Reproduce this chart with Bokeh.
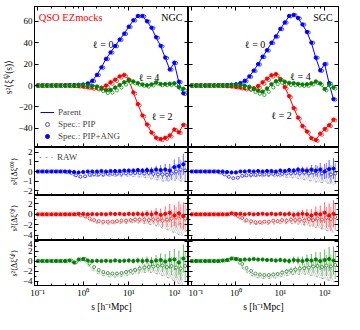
import numpy as np
from bokeh.plotting import figure
from bokeh.models import (LinearAxis, LogAxis, LogTicker, SingleIntervalTicker,
                          CustomJSTickFormatter, Range1d, Legend, LegendItem, Label)
from bokeh.layouts import gridplot
from bokeh.embed import file_html
from bokeh.resources import INLINE

# ---------------- data ----------------
s = [0.1, 0.126, 0.158, 0.2, 0.251, 0.316, 0.398, 0.501, 0.631, 0.794,
     1.0, 1.26, 1.58, 2.0, 2.51, 3.16, 3.98, 5.01, 6.31, 7.94,
     10.0, 12.6, 15.8, 20.0, 25.1, 31.6, 39.8, 50.1, 63.1, 79.4,
     100.0, 126.0, 158.0]

# parent multipoles s^2 xi_l
xi0_ngc = [0.0, 0.0, 0.0, 0.0, 0.1, 0.1, 0.2, 0.3, 0.5, 0.7, 1.0, 2.0, 4.5, 10.0, 17.0, 25.0, 31.0,
           37.0, 43.0, 48.5, 55.0, 61.0, 65.0, 65.0, 60.0, 54.0, 45.0, 37.0, 26.0, 15.0, 21.0, 3.0, -8.0]
xi2_ngc = [0, 0, 0, 0, 0, 0, 0, -0.2, -0.4, -0.7, -1.0, -1.5, -2.0, -2.3, -2.0, 0.0, 3.0, 5.5, 8.5,
           10.0, 5.5, -6.5, -17.5, -28.0, -36.5, -44.0, -49.0, -50.0, -49.0, -47.0, -41.0, -44.0, -36.5]
xi4_ngc = [0, 0, 0, 0, 0, 0, 0, 0, 0, 0, 0, 0, -0.3, -1.0, -3.0, -4.5, -4.2, -2.0, 0.5, 3.0, 4.5,
           3.8, 2.2, 1.0, 0.2, 1.2, 2.8, 1.2, 1.5, 1.5, 1.8, -1.3, -3.5]
xi0_sgc = [0.0, 0.0, 0.0, 0.0, 0.1, 0.1, 0.2, 0.3, 0.5, 0.8, 1.3, 2.3, 4.5, 8.5, 14.0, 20.0, 27.0,
           33.0, 40.0, 46.0, 53.0, 59.0, 65.0, 66.0, 63.0, 57.0, 50.0, 40.0, 26.0, 14.0, 20.0, 2.0, -13.0]
xi2_sgc = [0, 0, 0, 0, 0, 0, 0, -0.3, -0.6, -1.0, -1.5, -2.0, -2.5, -2.8, -2.5, -0.5, 3.0, 6.5, 9.5,
           10.7, 6.0, -1.5, -10.0, -21.0, -30.0, -38.0, -43.0, -49.0, -51.0, -45.0, -41.0, -37.0, -32.0]
xi4_sgc = [0, 0, 0, 0, 0, 0, 0, 0, 0, 0, 0, 0, -0.5, -1.5, -3.5, -5.0, -6.0, -3.0, 1.0, 4.0, 5.0,
           3.5, 2.5, 2.0, 1.5, 1.0, 1.0, 2.0, 3.5, 2.0, -3.5, 0.5, -2.0]

# residuals s^2 <Delta xi_l>, NGC
d0_pip_ngc = [0, 0, 0, 0, 0, 0, -0.05, -0.15, -0.4, -0.55, -0.5, -0.35, -0.3, -0.3, -0.3, -0.25, -0.25,
              -0.25, -0.25, -0.2, -0.2, -0.15, -0.15, -0.2, -0.15, -0.25, -0.3, -0.3, -0.35, -0.2, 0.0, 0.2, 0.1]
d0_ang_ngc = [0, 0, 0, 0, 0, 0, 0, 0, -0.05, -0.1, -0.05, 0.0, 0.0, 0.0, 0.05, 0.0, 0.05, 0.05, 0.05,
              0.1, 0.1, 0.1, 0.15, 0.1, 0.15, 0.1, 0.2, 0.15, 0.2, 0.1, 0.45, 0.55, 0.75]
raw0_ngc = [0, 0, 0, 0, 0, 0, 0, -0.2, -0.45, -0.6, -0.6, -0.5, -0.45, -0.45, -0.45, -0.4, -0.4, -0.4,
            -0.4, -0.35, -0.35, -0.35, -0.35, -0.4, -0.4, -0.5, -0.55, -0.6, -0.65, -0.55, -0.45, -0.45, -0.5]
d2_pip_ngc = [0, 0, 0, 0, 0, 0, 0, 0, 0, -0.2, -0.4, -0.8, -1.1, -1.3, -1.4, -1.4, -1.4, -1.3, -1.2,
              -1.2, -1.1, -1.0, -1.0, -1.0, -1.1, -1.0, -1.0, -1.2, -1.0, -0.8, -0.6, -0.4, -0.8]
d2_ang_ngc = [0, 0, 0, 0, 0, 0, 0, 0, 0, 0.1, 0.1, 0.0, 0.05, 0.0, 0.05, 0.0, 0.1, 0.05, 0.1, 0.0,
              0.1, 0.05, 0.1, 0.0, 0.1, 0.0, 0.2, -0.1, 0.1, 0.3, -0.2, 0.2, -0.3]
raw2_ngc = [0, 0, 0, 0, 0, 0, 0, 0, 0, 0, -0.3, -0.8, -1.3, -1.6, -1.7, -1.7, -1.7, -1.6, -1.5, -1.5,
            -1.4, -1.3, -1.3, -1.3, -1.4, -1.5, -1.6, -1.8, -2.0, -2.2, -2.5, -2.8, -3.0]
d4_pip_ngc = [0, 0, 0, 0, 0, 0, 0, 0.1, -0.3, 0.3, 0.4, -0.5, -1.2, -1.8, -2.2, -2.4, -2.5, -2.5, -2.4,
              -2.2, -2.0, -1.8, -1.5, -1.3, -1.2, -1.1, -1.0, -0.9, -1.2, -1.0, -1.3, -1.5, -1.0]
d4_ang_ngc = [0, 0, 0, 0, 0, 0, 0, 0.1, -0.3, 0.3, 0.4, 0.1, 0.0, 0.05, 0.0, 0.05, 0.0, 0.1, 0.0, 0.05,
              0.1, 0.0, 0.1, 0.0, 0.1, -0.1, 0.1, 0.2, -0.1, 0.2, 0.3, -0.3, 0.5]
raw4_ngc = [0, 0, 0, 0, 0, 0, 0, 0.1, -0.3, 0.3, 0.3, -0.7, -1.6, -2.2, -2.6, -2.8, -2.9, -2.9, -2.8,
            -2.6, -2.4, -2.1, -1.9, -1.7, -1.6, -1.6, -1.7, -1.9, -2.1, -2.4, -2.8, -3.2, -3.5]

# residuals, SGC
d0_pip_sgc = [0, 0, 0, 0, 0, 0, -0.1, -0.3, -0.55, -0.7, -0.65, -0.45, -0.4, -0.35, -0.35, -0.3, -0.3,
              -0.3, -0.25, -0.3, -0.25, -0.2, -0.2, -0.15, -0.2, -0.1, -0.2, -0.1, 0.0, -0.2, 0.1, -0.3, -0.2]
d0_ang_sgc = [0, 0, 0, 0, 0, 0, 0, 0, -0.05, -0.1, -0.1, 0.0, 0.0, 0.05, 0.0, 0.05, 0.0, 0.05, 0.05,
              0.0, 0.1, 0.05, 0.15, 0.1, 0.2, 0.15, 0.1, 0.2, 0.1, 0.2, 0.0, 0.25, 0.3]
raw0_sgc = [0, 0, 0, 0, 0, 0, 0, -0.3, -0.55, -0.75, -0.7, -0.55, -0.5, -0.5, -0.5, -0.45, -0.45, -0.45,
            -0.4, -0.45, -0.4, -0.4, -0.45, -0.45, -0.5, -0.55, -0.6, -0.65, -0.7, -0.75, -0.7, -0.75, -0.8]
d2_pip_sgc = [0, 0, 0, 0, 0, 0, 0, 0, 0, 0.1, -0.3, -0.7, -1.1, -1.3, -1.5, -1.5, -1.4, -1.4, -1.2,
              -1.3, -1.1, -1.2, -1.0, -1.1, -1.0, -1.2, -0.9, -1.1, -0.8, -1.0, -0.6, -0.9, -0.5]
d2_ang_sgc = [0, 0, 0, 0, 0, 0, 0, 0, 0, 0.2, 0.1, 0.1, 0.0, 0.1, 0.0, 0.05, 0.1, 0.0, 0.1, 0.0, 0.1,
              0.0, 0.1, -0.1, 0.0, 0.1, 0.0, -0.2, 0.1, 0.0, 0.3, -0.2, 0.1]
raw2_sgc = [0, 0, 0, 0, 0, 0, 0, 0, 0, 0, -0.4, -0.9, -1.4, -1.7, -1.8, -1.8, -1.7, -1.7, -1.6, -1.6,
            -1.5, -1.5, -1.4, -1.4, -1.4, -1.5, -1.5, -1.6, -1.7, -1.8, -2.0, -2.1, -2.2]
d4_pip_sgc = [0, 0, 0, 0, 0, 0, 0, 0.1, 0.2, 0.5, 0.4, -0.6, -1.4, -2.0, -2.5, -2.7, -2.8, -2.8, -2.7,
              -2.6, -2.3, -2.1, -1.9, -1.7, -1.5, -1.4, -1.3, -1.1, -1.0, -1.2, -0.9, -1.1, -0.8]
d4_ang_sgc = [0, 0, 0, 0, 0, 0, 0, 0.1, 0.2, 0.5, 0.4, 0.2, 0.3, 0.3, 0.4, 0.3, 0.3, 0.2, 0.2, 0.1,
              0.2, 0.1, 0.0, 0.2, 0.1, 0.0, 0.2, 0.1, 0.3, 0.0, 0.2, 0.4, 0.1]
raw4_sgc = [0, 0, 0, 0, 0, 0, 0, 0.1, 0.2, 0.4, 0.2, -0.9, -1.8, -2.4, -2.9, -3.1, -3.2, -3.2, -3.1,
            -3.0, -2.7, -2.5, -2.3, -2.1, -2.0, -1.9, -1.9, -2.0, -2.1, -2.3, -2.4, -2.6, -2.8]

# error bars (mock scatter) and RAW band half-widths
err0 = [0.03] * 10 + [0.05, 0.05, 0.06, 0.07, 0.08, 0.1, 0.1, 0.12, 0.13, 0.15, 0.17, 0.2, 0.22,
                      0.25, 0.3, 0.35, 0.4, 0.5, 0.6, 0.7, 0.8, 0.95, 1.1]
err2 = [0.05] * 10 + [0.1, 0.12, 0.15, 0.18, 0.2, 0.22, 0.25, 0.28, 0.3, 0.35, 0.4, 0.45, 0.5,
                      0.6, 0.7, 0.8, 1.0, 1.2, 1.4, 1.7, 2.0, 2.3, 2.6]
err4 = [0.05] * 10 + [0.12, 0.15, 0.18, 0.2, 0.22, 0.25, 0.28, 0.3, 0.35, 0.4, 0.45, 0.5, 0.6,
                      0.7, 0.8, 0.9, 1.1, 1.3, 1.5, 1.8, 2.1, 2.4, 2.8]
rawerr0 = [0.02] * 10 + [0.05, 0.05, 0.06, 0.07, 0.08, 0.09, 0.1, 0.1, 0.12, 0.13, 0.15, 0.17, 0.2,
                         0.22, 0.25, 0.28, 0.3, 0.35, 0.38, 0.42, 0.45, 0.5, 0.55]
rawerr2 = [0.03] * 10 + [0.08, 0.1, 0.12, 0.13, 0.15, 0.15, 0.18, 0.2, 0.22, 0.25, 0.28, 0.3, 0.35,
                         0.4, 0.45, 0.5, 0.6, 0.7, 0.8, 0.9, 1.0, 1.1, 1.2]
rawerr4 = [0.05] * 10 + [0.1, 0.15, 0.2, 0.22, 0.25, 0.28, 0.3, 0.32, 0.35, 0.4, 0.45, 0.5, 0.55,
                         0.6, 0.65, 0.7, 0.8, 0.9, 1.0, 1.1, 1.2, 1.3, 1.4]

# ---------------- style ----------------
SERIF = "Liberation Serif"
BLUE, RED, GREEN = "#0000ff", "#ff0000", "#008000"
GRAY = "#8c8c8c"
XR = (0.085, 205)
DX = 10 ** 0.04
S = np.array(s)

FMT = """
const e = Math.round(Math.log10(tick));
const m = {"-1": "\u207b\u00b9", "0": "\u2070", "1": "\u00b9", "2": "\u00b2"};
return "10" + (m[String(e)] !== undefined ? m[String(e)] : String(e));
"""


def style(ax, show, label_size="9.5px"):
    ax.major_tick_in = 4
    ax.major_tick_out = 0
    ax.minor_tick_in = 2
    ax.minor_tick_out = 0
    ax.axis_line_color = "black"
    ax.major_tick_line_color = "black"
    ax.minor_tick_line_color = "black"
    ax.major_label_text_font = SERIF
    ax.axis_label_text_font = SERIF
    ax.axis_label_text_font_style = "normal"
    ax.axis_label_text_color = "black"
    ax.major_label_text_color = "black"
    if show:
        ax.major_label_text_font_size = "9px"
        ax.major_label_standoff = 2
        ax.axis_label_standoff = 1
        ax.axis_label_text_font_size = label_size
    else:
        ax.major_label_text_font_size = "1px"
        ax.major_label_text_alpha = 0
        ax.major_label_standoff = 0
        ax.axis_label_standoff = 0


FRAME_H = [141, 48, 45, 48]


def panel(col, row, yr, yticker_fn, ylabel=None):
    w = 188 if col == 0 else 156
    top = 6 if row == 0 else 0
    bottom = 26 if row == 3 else 0
    h = FRAME_H[row] + top + bottom
    p = figure(width=w, height=h, x_axis_type="log", x_range=Range1d(*XR), y_range=Range1d(*yr),
               output_backend="svg", toolbar_location=None,
               min_border_left=34 if col == 0 else 0, min_border_right=0 if col == 0 else 6,
               min_border_top=top, min_border_bottom=bottom)
    p.xgrid.visible = False
    p.ygrid.visible = False
    p.outline_line_color = "black"
    p.outline_line_alpha = 1
    xa = p.xaxis[0]
    ya = p.yaxis[0]
    xa.ticker = LogTicker(desired_num_ticks=4)
    xa.formatter = CustomJSTickFormatter(code=FMT)
    if row == 3:
        xa.axis_label = "s [h\u207b\u00b9Mpc]"
    style(xa, row == 3)
    ya.ticker = yticker_fn()
    if col == 0 and ylabel:
        ya.axis_label = ylabel
    style(ya, col == 0, "9.5px" if row == 0 else "8px")
    ra = LinearAxis(ticker=yticker_fn())
    style(ra, False)
    p.add_layout(ra, "right")
    if row == 0:
        ta = LogAxis(ticker=LogTicker(desired_num_ticks=4))
        style(ta, False)
        p.add_layout(ta, "above")
    return p


def t20():
    return SingleIntervalTicker(interval=20, num_minor_ticks=0)


def t1():
    return SingleIntervalTicker(interval=1, num_minor_ticks=0)


def t2():
    return SingleIntervalTicker(interval=2, num_minor_ticks=2)


def draw_top(p, xis, dps, das):
    rend = {}
    for (xi, dp, da, c) in zip(xis, dps, das, [BLUE, RED, GREEN]):
        xi = np.array(xi, dtype=float)
        ln = p.line(S, xi, color=c, line_width=1)
        op = p.scatter(S * DX, xi + np.array(dp), marker="circle", size=3.2, fill_color="white",
                       line_color=c, line_width=0.7)
        fl = p.scatter(S, xi + np.array(da), marker="circle", size=3.4, fill_color=c, line_color=c)
        rend.setdefault(c, (ln, op, fl))
    return rend


def draw_res(p, dp, da, raw, rawerr, err, c):
    dp = np.array(dp, dtype=float)
    da = np.array(da, dtype=float)
    raw = np.array(raw, dtype=float)
    rawerr = np.array(rawerr, dtype=float)
    err = np.array(err, dtype=float)
    p.varea(x=S, y1=raw - rawerr, y2=raw + rawerr, fill_color=GRAY, fill_alpha=0.06,
            hatch_pattern="/", hatch_color=GRAY, hatch_alpha=0.7, hatch_scale=4, hatch_weight=0.5)
    lo = p.line(S, raw - rawerr, color=GRAY, line_dash="dotted", line_width=0.8)
    p.line(S, raw + rawerr, color=GRAY, line_dash="dotted", line_width=0.8)
    p.segment(x0=S * DX, y0=dp - err, x1=S * DX, y1=dp + err, color=c, alpha=0.45, line_width=1)
    p.segment(x0=S, y0=da - err, x1=S, y1=da + err, color=c, alpha=0.6, line_width=1)
    p.scatter(S * DX, dp, marker="circle", size=3.0, fill_color="white", line_color=c, line_width=0.7)
    p.scatter(S, da, marker="circle", size=3.2, fill_color=c, line_color=c)
    return lo


def add_text(p, x, y, text, align="left", color="black", size="10px"):
    p.add_layout(Label(x=x, y=y, text=text, text_align=align, text_baseline="middle",
                       text_font=SERIF, text_font_size=size, text_color=color))


YTOP = (-58, 74)
Y0 = (-2.5, 2.5)
Y2 = (-5.0, 3.6)
Y4 = (-4.9, 4.1)

caps = [
    ("NGC", xi0_ngc, xi2_ngc, xi4_ngc, d0_pip_ngc, d0_ang_ngc, raw0_ngc, d2_pip_ngc, d2_ang_ngc, raw2_ngc,
     d4_pip_ngc, d4_ang_ngc, raw4_ngc),
    ("SGC", xi0_sgc, xi2_sgc, xi4_sgc, d0_pip_sgc, d0_ang_sgc, raw0_sgc, d2_pip_sgc, d2_ang_sgc, raw2_sgc,
     d4_pip_sgc, d4_ang_sgc, raw4_sgc),
]
cols = []
for col, (name, x0, x2, x4, p0, a0, r0, p2, a2, r2, p4, a4, r4) in enumerate(caps):
    pt = panel(col, 0, YTOP, t20, "s\u00b2\u27e8\u03be\u207d\u02e1\u207e(s)\u27e9")
    rend = draw_top(pt, [x0, x2, x4], [p0, p2, p4], [a0, a2, a4])
    add_text(pt, 151, 64, name, align="right")
    if col == 0:
        add_text(pt, 0.105, 64, "QSO EZmocks", color=RED, size="10.5px")
        add_text(pt, 4.6, 38, "\u2113 = 0", align="right")
        add_text(pt, 16.7, 8, "\u2113 = 4")
        add_text(pt, 32.5, -29, "\u2113 = 2")
        ln, op, fl = rend[BLUE]
        leg = Legend(items=[LegendItem(label="Parent", renderers=[ln]),
                            LegendItem(label="Spec.: PIP", renderers=[op]),
                            LegendItem(label="Spec.: PIP+ANG", renderers=[fl])],
                     location="bottom_left", label_text_font=SERIF, label_text_font_size="9px",
                     glyph_height=10, glyph_width=14, label_height=10, spacing=2, padding=2,
                     margin=4, background_fill_alpha=0, border_line_alpha=0, label_standoff=4)
        pt.add_layout(leg)
    else:
        add_text(pt, 4.6, 38, "\u2113 = 0", align="right")
        add_text(pt, 16.7, 8.5, "\u2113 = 4")
        add_text(pt, 6.3, -28, "\u2113 = 2")

    q0 = panel(col, 1, Y0, t1, "s\u00b2\u27e8\u0394\u03be\u207d\u2070\u207e\u27e9")
    lo = draw_res(q0, p0, a0, r0, rawerr0, err0, BLUE)
    if col == 0:
        leg2 = Legend(items=[LegendItem(label="RAW", renderers=[lo])], location="top_left",
                      label_text_font=SERIF, label_text_font_size="9px", glyph_height=10,
                      glyph_width=14, label_height=10, padding=2, margin=3,
                      background_fill_alpha=0, border_line_alpha=0, label_standoff=4)
        q0.add_layout(leg2)
    q2 = panel(col, 2, Y2, t2, "s\u00b2\u27e8\u0394\u03be\u207d\u00b2\u207e\u27e9")
    draw_res(q2, p2, a2, r2, rawerr2, err2, RED)
    q4 = panel(col, 3, Y4, t2, "s\u00b2\u27e8\u0394\u03be\u207d\u2074\u207e\u27e9")
    draw_res(q4, p4, a4, r4, rawerr4, err4, GREEN)
    cols.append([pt, q0, q2, q4])

grid = gridplot([[cols[0][i], cols[1][i]] for i in range(4)], toolbar_location=None)

open("out.html", "w").write(file_html(grid, INLINE))
